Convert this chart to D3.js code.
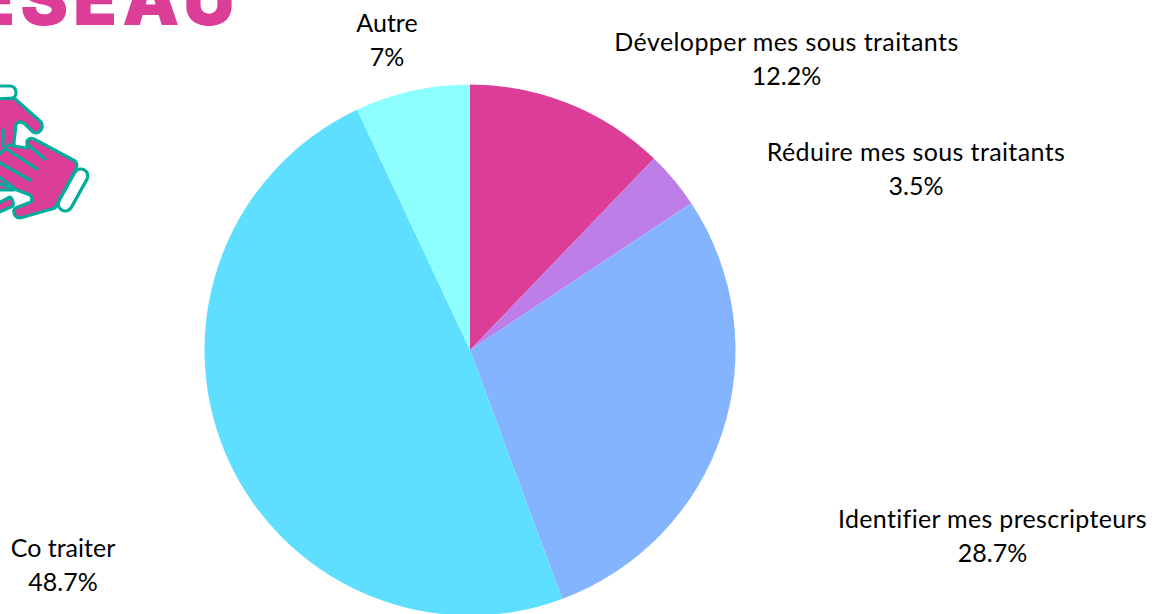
<!DOCTYPE html>
<html><head><meta charset="utf-8">
<script src="https://cdn.jsdelivr.net/npm/d3@7"></script>
<style>html,body{margin:0;background:#fff;overflow:hidden}svg{display:block}</style>
</head><body><svg id="c" width="1152" height="614"></svg>
<script>
const categories=["Développer mes sous traitants","Réduire mes sous traitants","Identifier mes prescripteurs","Co traiter","Autre"];
const values=[12.2,3.5,28.7,48.7,7];
const valueLabels=["12.2%","3.5%","28.7%","48.7%","7%"];
const colors=["#DC3D96","#BD7EE8","#85B4FF","#5EDFFF","#8EFFFF"];
const labelCenters=[[786.5,42],[916,152],[992.5,519],[63,548],[387,23]];
const labelTracking=[0.42,0.38,0.32,0,0];
const title="RÉSEAU";
const svg=d3.select("#c");
const cx=470,cy=350,R=265.5;
const pie=d3.pie().sort(null).value(d=>d)(values);
const arc=d3.arc().innerRadius(0).outerRadius(R);
svg.append("g").attr("transform",`translate(${cx},${cy})`).selectAll("path").data(pie).join("path")
 .attr("d",arc).attr("fill",(d,i)=>colors[i]);
const font="Lato, sans-serif";
const lab=svg.append("g").attr("font-family",font).attr("font-size",25).attr("fill","#000").attr("text-anchor","middle").style("font-variant-ligatures","none");
categories.forEach((c,i)=>{
 const [x,y]=labelCenters[i];
 lab.append("text").attr("x",x).attr("y",y+9).attr("letter-spacing",labelTracking[i]).text(c);
 lab.append("text").attr("x",x).attr("y",y+43).text(valueLabels[i]);
});
svg.append("text").attr("x",240).attr("y",25).attr("text-anchor","end")
 .attr("font-family","Inter,sans-serif").attr("font-weight",900).attr("font-size",72)
 .attr("letter-spacing",5).attr("fill","#DC3D96").text(title);
// logo
const g=svg.append("g").attr("stroke","#00AC9C").attr("stroke-width",3.2).attr("stroke-linejoin","round").attr("stroke-linecap","round");
g.append("rect").attr("x",-20).attr("y",86).attr("width",36).attr("height",13).attr("rx",6).attr("fill","#fff");
g.append("path").attr("fill","#DC3D96").attr("d","M-5,99 L14,98 L41,122 Q44,128 39,132 Q35,134 32,131 L25,124 Q20,120 16,124 L14,142 L14,190 L-5,190Z");
g.append("path").attr("fill","#DC3D96").attr("d","M-5,205 L10,197 Q14,200 13,206 L-5,214Z");
g.append("path").attr("fill","#DC3D96").attr("d","M-5,158 L6,148 Q9,143 14,146 L27,148 L27,141 Q30,137 34,139 L75,161 Q78,164 76,169 L55,208 L20,218 Q13,217 14,210 Q16,207 18,207 L31,202 Q33,198 30,195 L17,190 L-5,182Z");
g.append("rect").attr("x",-7).attr("y",-23).attr("width",14).attr("height",46).attr("rx",7).attr("fill","#fff").attr("transform","translate(73,190) rotate(29)");
g.append("g").attr("fill","none").selectAll("path").data([[28,145,45,159],[8,150,37,169],[-5,160,30,180],[-5,174,13,187],[3,130,3,146]]).join("path")
 .attr("d",d=>`M${d[0]},${d[1]} L${d[2]},${d[3]}`);
</script></body></html>
